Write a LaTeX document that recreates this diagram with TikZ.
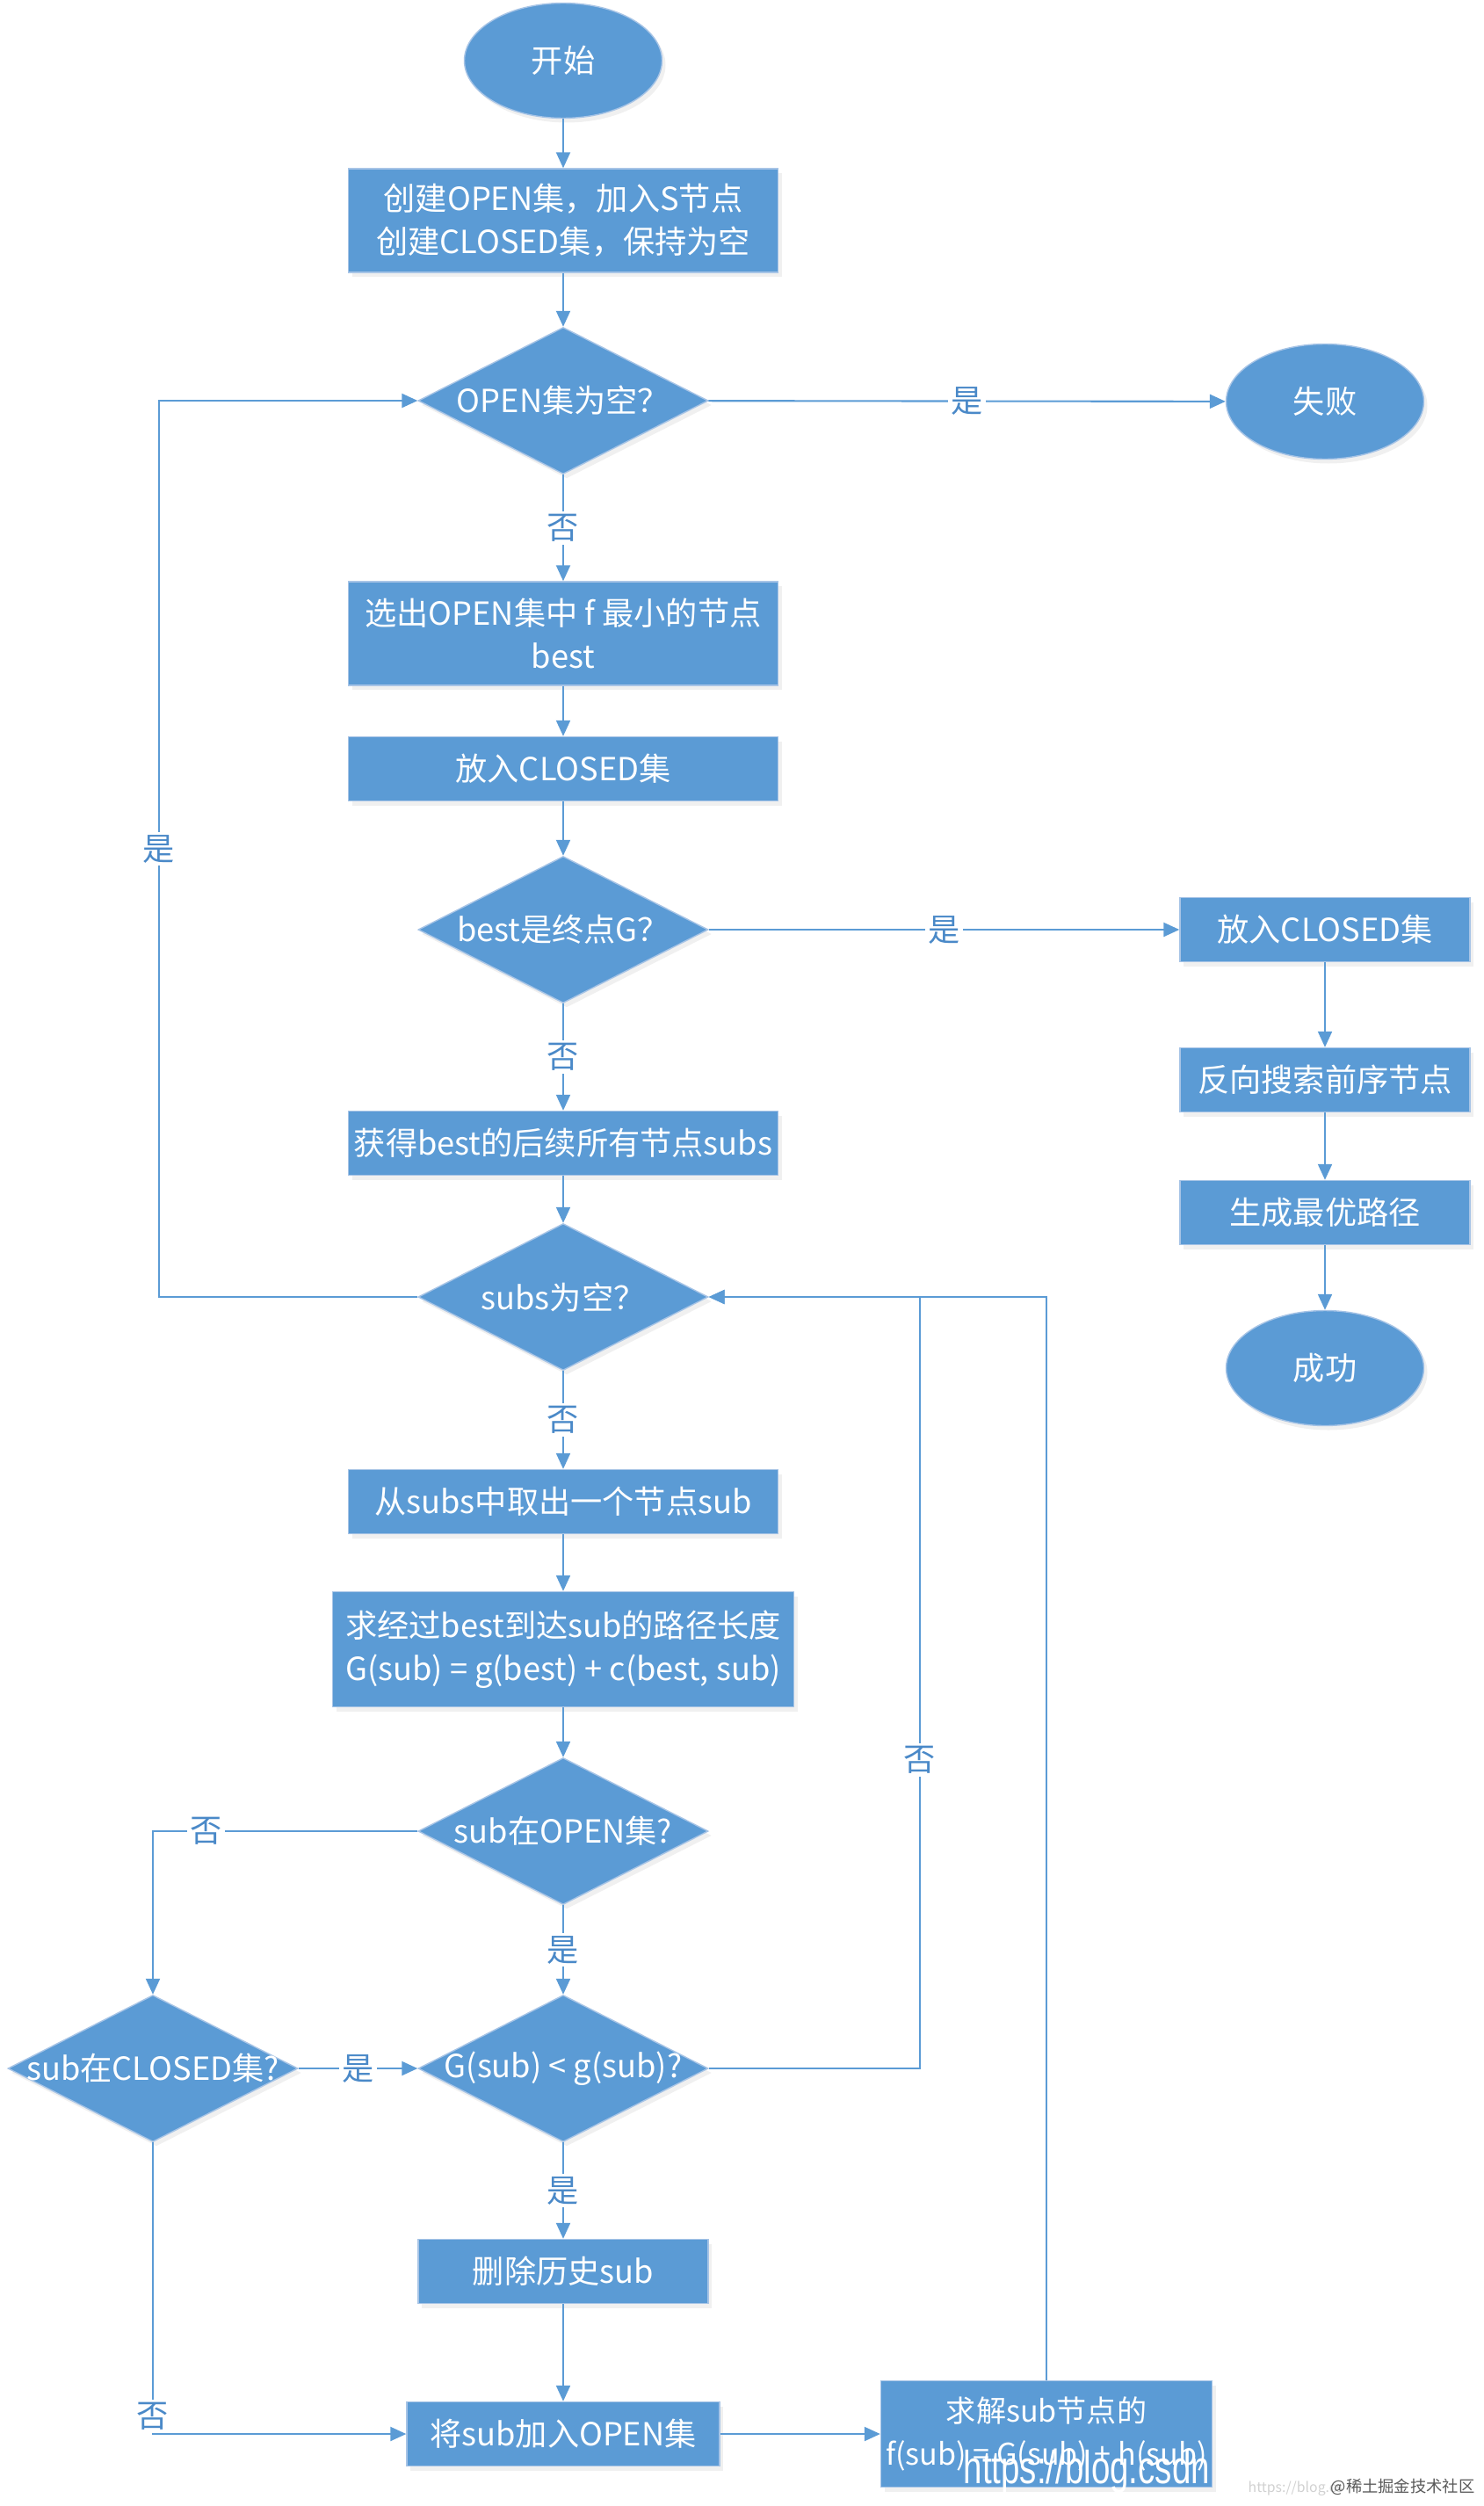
\documentclass[tikz,border=0pt]{standalone}
\usepackage{fontspec}
\setmainfont{Noto Sans CJK SC}
\newfontfamily\wmfont{Liberation Sans}[FakeStretch=0.73]
\usetikzlibrary{shapes.geometric, arrows.meta, shadows}
\definecolor{flowblue}{HTML}{5B9BD5}
\definecolor{lblblue}{HTML}{4A89C8}
\definecolor{edgeblue}{HTML}{A7C4E6}

\begin{document}
\begin{tikzpicture}[
    font=\fontsize{10.3}{14}\selectfont,
    base/.style={fill=flowblue, draw=edgeblue, line width=0.4pt, text=white,
        drop shadow={opacity=0.12, shadow xshift=0.04cm, shadow yshift=-0.05cm}},
    term/.style={base, ellipse, minimum width=2.25cm, minimum height=1.31cm, inner sep=0pt},
    proc/.style={base, rectangle, minimum width=4.89cm, minimum height=0.73cm, align=center, inner sep=0pt},
    test/.style={base, diamond, minimum width=3.3cm, minimum height=1.67cm, inner sep=0pt},
    flow/.style={draw=flowblue, line width=0.6pt, -{Triangle[length=1.8mm,width=1.6mm]}},
    lbl/.style={fill=white, text=lblblue, inner sep=1pt}
]
    \useasboundingbox (0,0) rectangle (16.88,-28.52);
    \node[term] (start) at (6.41,-0.69) {开始};
    \node[proc, minimum height=1.18cm] (init) at (6.41,-2.51) {创建OPEN集，加入S节点\\创建CLOSED集，保持为空};
    \node[test, label={[text=white]center:OPEN集为空？}] (qOpen) at (6.41,-4.56) {};
    \node[term] (fail) at (15.08,-4.57) {失败};
    \node[proc, minimum height=1.18cm] (pick) at (6.41,-7.21) {选出OPEN集中 f 最小的节点\\best};
    \node[proc] (close) at (6.41,-8.75) {放入CLOSED集};
    \node[test, label={[text=white]center:best是终点G？}] (qGoal) at (6.41,-10.58) {};
    \node[proc, minimum width=3.3cm] (rClose) at (15.08,-10.58) {放入CLOSED集};
    \node[proc, minimum width=3.3cm] (back) at (15.08,-12.29) {反向搜索前序节点};
    \node[proc, minimum width=3.3cm] (best) at (15.08,-13.80) {生成最优路径};
    \node[term] (success) at (15.08,-15.57) {成功};
    \node[proc] (expand) at (6.41,-13.01) {获得best的后续所有节点subs};
    \node[test, label={[text=white]center:subs为空？}] (qSubs) at (6.41,-14.76) {};
    \node[proc] (take) at (6.41,-17.09) {从subs中取出一个节点sub};
    \node[proc, minimum width=5.25cm, minimum height=1.31cm] (cost) at (6.41,-18.77) {求经过best到达sub的路径长度\\G(sub) = g(best) + c(best, sub)};
    \node[test, label={[text=white]center:sub在OPEN集?}] (qInOpen) at (6.41,-20.84) {};
    \node[test, label={[text=white]center:sub在CLOSED集?}] (qInClosed) at (1.74,-23.54) {};
    \node[test, label={[text=white]center:G(sub) < g(sub)?}] (qLess) at (6.41,-23.54) {};
    \node[proc, minimum width=3.3cm] (del) at (6.41,-25.85) {删除历史sub};
    \node[proc, minimum width=3.56cm] (add) at (6.41,-27.70) {将sub加入OPEN集};
    \node[proc, minimum width=3.77cm, minimum height=1.21cm, font=\fontsize{9.7}{14}\selectfont] (fval) at (11.91,-27.70) {求解sub节点的\\f(sub) = G(sub) + h(sub)};
    \coordinate (loopL) at (1.81,-14.76);
    \coordinate (loopR) at (10.47,-23.54);

    \draw[flow] (start) -- (init);
    \draw[flow] (init) -- (qOpen);
    \draw[flow] (qOpen) -- node[lbl] {是} (fail);
    \draw[flow] (qOpen) -- node[lbl] {否} (pick);
    \draw[flow] (pick) -- (close);
    \draw[flow] (close) -- (qGoal);
    \draw[flow] (qGoal) -- node[lbl] {是} (rClose);
    \draw[flow] (rClose) -- (back);
    \draw[flow] (back) -- (best);
    \draw[flow] (best) -- (success);
    \draw[flow] (qGoal) -- node[lbl] {否} (expand);
    \draw[flow] (expand) -- (qSubs);
    \draw[flow] (qSubs.west) -- (loopL) |- node[lbl, pos=0.25] {是} (qOpen.west);
    \draw[flow] (qSubs) -- node[lbl] {否} (take);
    \draw[flow] (take) -- (cost);
    \draw[flow] (cost) -- (qInOpen);
    \draw[flow] (qInOpen.west) -| node[lbl, pos=0.4] {否} (qInClosed.north);
    \draw[flow] (qInOpen) -- node[lbl] {是} (qLess);
    \draw[flow] (qInClosed) -- node[lbl] {是} (qLess);
    \draw[flow] (qLess.east) -- (loopR) |- node[lbl, pos=0.2] {否} (qSubs.east);
    \draw[flow] (qLess) -- node[lbl] {是} (del);
    \draw[flow] (del) -- (add);
    \draw[flow] (qInClosed.south) |- node[lbl, yshift=0.2cm] {否} (add.west);
    \draw[flow] (add) -- (fval);
    \draw[flow] (fval.north) |- (qSubs.east);

    % watermark
    \node[anchor=base west, text=black!18, font=\fontsize{4.5}{5}\selectfont, inner sep=0pt] (wmGrey) at (14.20,-28.36) {https://blog.cs};
    \node[anchor=base west, text=white, font=\wmfont\fontsize{15}{15}\selectfont, inner sep=0pt] (wmUrl) at (10.96,-28.26) {https://blog.csdn};
    \node[anchor=base east, text=black!65, font=\fontsize{5.2}{6}\selectfont, inner sep=0pt] (wmSite) at (16.79,-28.36) {@稀土掘金技术社区};
\end{tikzpicture}
\end{document}
